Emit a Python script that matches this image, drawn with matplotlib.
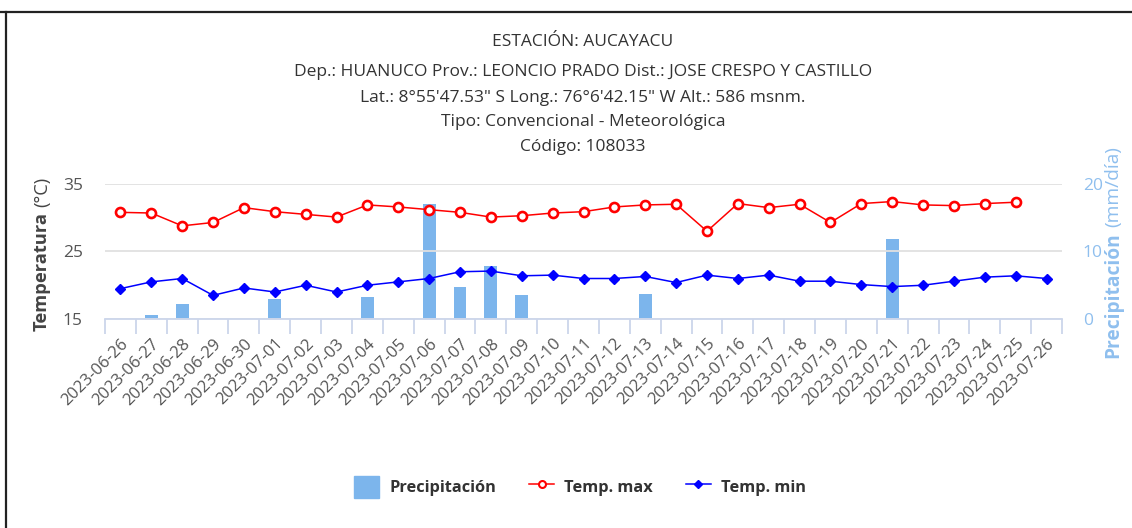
import numpy as np
import matplotlib
matplotlib.use("Agg")
import matplotlib.pyplot as plt
from matplotlib.lines import Line2D
from matplotlib.patches import Patch

plt.rcParams['font.family'] = ['Open Sans', 'DejaVu Sans']

# datos de la estación
fechas = ['2023-06-26', '2023-06-27', '2023-06-28', '2023-06-29', '2023-06-30',
          '2023-07-01', '2023-07-02', '2023-07-03', '2023-07-04', '2023-07-05',
          '2023-07-06', '2023-07-07', '2023-07-08', '2023-07-09', '2023-07-10',
          '2023-07-11', '2023-07-12', '2023-07-13', '2023-07-14', '2023-07-15',
          '2023-07-16', '2023-07-17', '2023-07-18', '2023-07-19', '2023-07-20',
          '2023-07-21', '2023-07-22', '2023-07-23', '2023-07-24', '2023-07-25',
          '2023-07-26']
temp_max = [30.8, 30.7, 28.8, 29.3, 31.5, 30.9, 30.5, 30.1, 31.9, 31.6,
            31.2, 30.8, 30.1, 30.3, 30.7, 30.9, 31.6, 31.9, 32.0, 28.0,
            32.1, 31.5, 32.0, 29.3, 32.1, 32.4, 31.9, 31.8, 32.1, 32.3,
            np.nan]
temp_min = [19.5, 20.5, 21.0, 18.5, 19.6, 19.0, 20.0, 19.0, 20.0, 20.5,
            21.0, 22.0, 22.1, 21.4, 21.5, 21.0, 21.0, 21.3, 20.4, 21.5,
            21.0, 21.5, 20.6, 20.6, 20.1, 19.8, 20.0, 20.6, 21.2, 21.4,
            21.0]
precip = [0, 0.6, 2.2, 0, 0, 3.0, 0, 0, 3.3, 0,
          17.1, 4.8, 7.9, 3.5, 0, 0, 0, 3.7, 0, 0,
          0, 0, 0, 0, 0, 11.9, 0, 0, 0, 0,
          0]

titulos = ["ESTACIÓN: AUCAYACU",
           "Dep.: HUANUCO Prov.: LEONCIO PRADO Dist.: JOSE CRESPO Y CASTILLO",
           "Lat.: 8°55'47.53\" S Long.: 76°6'42.15\" W Alt.: 586 msnm.",
           "Tipo: Convencional - Meteorológica",
           "Código: 108033"]

W, H = 1132, 528
fig = plt.figure(figsize=(W / 100, H / 100), dpi=100)
ax = fig.add_axes([105 / W, 1 - 319 / H, 957 / W, 135 / H])
ax2 = ax.twinx()

x = np.arange(len(fechas))

# precipitación en eje derecho, detrás
ax2.bar(x, precip, width=0.42, color='#7cb5ec', zorder=1)
ax2.set_ylim(0, 20)
ax2.set_yticks([0, 10, 20])
ax.set_zorder(ax2.get_zorder() + 1)
ax.patch.set_visible(False)

ax.plot(x, temp_max, color='#ff0000', lw=1.1, marker='o', ms=6.5,
        mfc='white', mec='#ff0000', mew=1.9, zorder=3)
ax.plot(x, temp_min, color='#0000ff', lw=1.1, marker='D', ms=5.5,
        mfc='#0000ff', mec='#0000ff', zorder=3)

ax.set_ylim(15, 35)
ax.set_xlim(-0.5, len(fechas) - 0.5)
ax.set_yticks([15, 25, 35])
ax.grid(axis='y', color='#e0e0e0', lw=1.3)
ax.set_axisbelow(True)

for a in (ax, ax2):
    for s in a.spines.values():
        s.set_visible(False)
ax.spines['bottom'].set_visible(True)
ax.spines['bottom'].set_color('#ccd6eb')
ax.spines['bottom'].set_linewidth(1.3)

ax.set_xticks(x)
ax.set_xticklabels(fechas, rotation=45, ha='right', rotation_mode='anchor',
                   fontsize=12, color='#555555')
ax.tick_params(axis='x', which='major', length=0, pad=12)
ax.set_xticks(np.arange(-0.5, len(fechas)), minor=True)
ax.tick_params(axis='x', which='minor', length=11, color='#ccd6eb', width=1.3)
ax.tick_params(axis='y', length=0, pad=16, labelsize=12.5, labelcolor='#555555')
ax2.tick_params(axis='y', length=0, pad=15, labelsize=12.5, labelcolor='#8fbfee')

# títulos
ys = [42, 72, 98, 122, 147]
for t, yy in zip(titulos, ys):
    fig.text(583 / W, 1 - yy / H, t, ha='center', va='center',
             fontsize=12.5, color='#333333')

# etiquetas de ejes con parte en negrita
r = fig.canvas.get_renderer()
t1 = fig.text(42 / W, 1 - 331 / H, "Temperatura", rotation=90, ha='center',
              va='bottom', fontsize=13.2, fontweight='bold', color='#444444')
bb = t1.get_window_extent(r)
fig.text(42 / W, (bb.y1 + 5) / H, "(°C)", rotation=90, ha='center',
         va='bottom', fontsize=13.2, color='#444444')
t2 = fig.text(1113 / W, 1 - 358 / H, "Precipitación", rotation=90, ha='center',
              va='bottom', fontsize=13.8, fontweight='bold', color='#8fbfee')
bb = t2.get_window_extent(r)
fig.text(1113 / W, (bb.y1 + 5) / H, "(mm/día)", rotation=90, ha='center',
         va='bottom', fontsize=13.8, color='#8fbfee')

# leyenda
handles = [Patch(color='#7cb5ec'),
           Line2D([], [], color='#ff0000', lw=1.1, marker='o', ms=5,
                  mfc='white', mec='#ff0000', mew=1.5),
           Line2D([], [], color='#0000ff', lw=1.1, marker='D', ms=4.5,
                  mfc='#0000ff', mec='#0000ff')]
leg = fig.legend(handles, ['Precipitación', 'Temp. max', 'Temp. min'],
                 loc='center', bbox_to_anchor=(580 / W, 1 - 487 / H), ncol=3,
                 frameon=False, handlelength=1.55, handleheight=1.7,
                 columnspacing=2.0, handletextpad=0.6,
                 prop={'weight': 'bold', 'size': 11.8})
for t in leg.get_texts():
    t.set_color('#333333')

# marco superior e izquierdo
fig.add_artist(Line2D([0, 1], [1 - 12 / H, 1 - 12 / H], color='#222222', lw=1.6))
fig.add_artist(Line2D([6 / W, 6 / W], [0, 1 - 12 / H], color='#222222', lw=1.6))

fig.savefig('out.png', dpi=100)
